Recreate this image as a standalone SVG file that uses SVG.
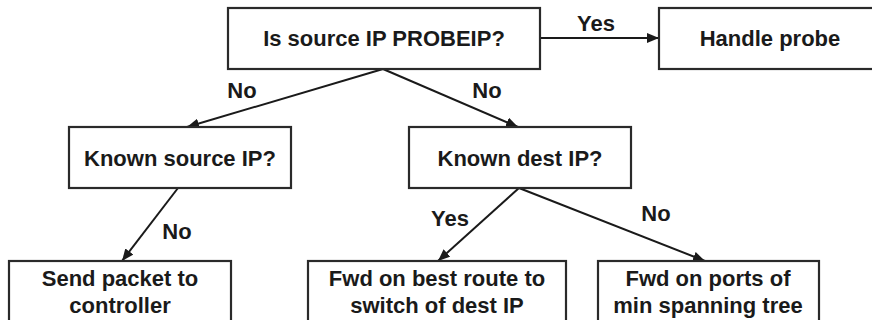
<svg xmlns="http://www.w3.org/2000/svg" width="872" height="320" viewBox="0 0 872 320">
<defs>
<marker id="ah" markerWidth="12" markerHeight="10" refX="12" refY="5" orient="auto" markerUnits="userSpaceOnUse">
<path d="M0,0 L12,5 L0,10 Z" fill="#1a1a1a"/>
</marker>
</defs>
<style>
.box{fill:#fff;stroke:#2a2a2a;stroke-width:2.2}
.t{font-family:"Liberation Sans",Arial,sans-serif;font-weight:bold;font-size:22px;fill:#1a1a1a;text-anchor:middle}
.c{stroke:#1a1a1a;stroke-width:2;fill:none;marker-end:url(#ah)}
</style>
<rect width="872" height="320" fill="#fff"/>
<g id="connectors">
<line class="c" x1="540" y1="38" x2="659" y2="38"/>
<line class="c" x1="383" y1="69" x2="187" y2="127"/>
<line class="c" x1="383" y1="69" x2="518" y2="127"/>
<line class="c" x1="178" y1="188" x2="122" y2="261"/>
<line class="c" x1="519" y1="188" x2="438" y2="261"/>
<line class="c" x1="519" y1="188" x2="705" y2="261"/>
<text class="t" x="596" y="31">Yes</text>
<text class="t" x="242" y="98">No</text>
<text class="t" x="487" y="98">No</text>
<text class="t" x="177" y="239">No</text>
<text class="t" x="450" y="226">Yes</text>
<text class="t" x="656" y="221">No</text>
</g>
<g id="n_probeip"><rect class="box" x="228" y="8" width="312" height="61"/><text class="t" x="384" y="46">Is source IP PROBEIP?</text></g>
<g id="n_handle"><rect class="box" x="659" y="8" width="230" height="61"/><text class="t" x="770" y="46">Handle probe</text></g>
<g id="n_knownsrc"><rect class="box" x="69" y="127" width="222" height="61"/><text class="t" x="180" y="166">Known source IP?</text></g>
<g id="n_knowndst"><rect class="box" x="409" y="127" width="222" height="61"/><text class="t" x="520" y="166">Known dest IP?</text></g>
<g id="n_send"><rect class="box" x="9" y="261" width="222" height="65"/><text class="t" x="120" y="286">Send packet to</text><text class="t" x="120" y="313">controller</text></g>
<g id="n_best"><rect class="box" x="308" y="261" width="258" height="65"/><text class="t" x="437" y="286">Fwd on best route to</text><text class="t" x="437" y="313">switch of dest IP</text></g>
<g id="n_span"><rect class="box" x="598" y="261" width="221" height="65"/><text class="t" x="708" y="286">Fwd on ports of</text><text class="t" x="708" y="313">min spanning tree</text></g>
</svg>
